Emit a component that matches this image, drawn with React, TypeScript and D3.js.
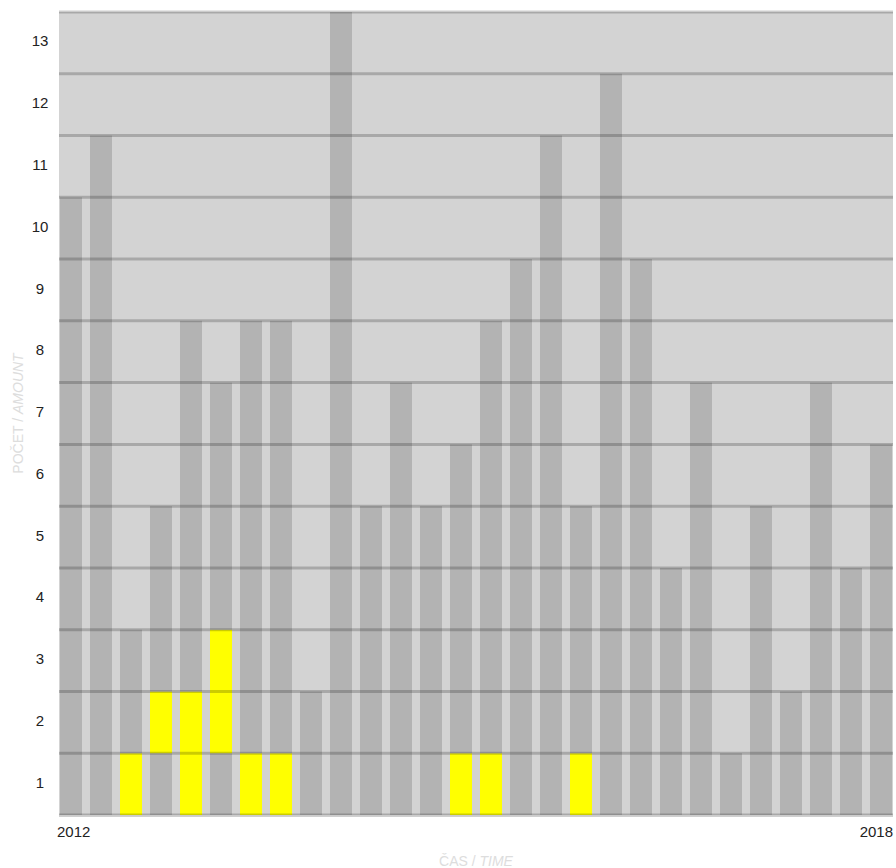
import React from "react";
import * as d3 from "d3";

const years = [2012, 2013, 2014, 2015, 2016, 2017, 2018];
const quarters = years.flatMap((y) => [1, 2, 3, 4].map((q) => `${y} Q${q}`));
const totals = [10, 11, 3, 5, 8, 7, 8, 8, 2, 13, 5, 7, 5, 6, 8, 9, 11, 5, 12, 9, 4, 7, 1, 5, 2, 7, 4, 6];
const highlightStart = [0, 0, 0, 1, 0, 1, 0, 0, 0, 0, 0, 0, 0, 0, 0, 0, 0, 0, 0, 0, 0, 0, 0, 0, 0, 0, 0, 0];
const highlightCount = [0, 0, 1, 1, 2, 2, 1, 1, 0, 0, 0, 0, 0, 1, 1, 0, 0, 1, 0, 0, 0, 0, 0, 0, 0, 0, 0, 0];
const yTicks = d3.range(1, 14);
const xLabels = ["2012", "2018"];

const W = 896;
const H = 868;
const left = 59;
const right = 893;
const top = 12;
const bottom = 815;
const FONT = "'Liberation Sans', Arial, Helvetica, sans-serif";

export default function App() {
  const x = d3.scaleBand<string>().domain(quarters).range([60, 892]).paddingInner(8 / 30).paddingOuter(0);
  const y = d3.scaleLinear().domain([0, 13]).range([bottom, top]);

  const segs: { key: string; x: number; y0: number; y1: number; fill: string }[] = [];
  quarters.forEach((q, i) => {
    const t = totals[i];
    const hs = highlightStart[i];
    const hc = highlightCount[i];
    if (hc === 0) {
      segs.push({ key: q + "g", x: x(q)!, y0: 0, y1: t, fill: "#b3b3b3" });
    } else {
      if (hs > 0) segs.push({ key: q + "a", x: x(q)!, y0: 0, y1: hs, fill: "#b3b3b3" });
      segs.push({ key: q + "y", x: x(q)!, y0: hs, y1: hs + hc, fill: "#ffff00" });
      if (hs + hc < t) segs.push({ key: q + "b", x: x(q)!, y0: hs + hc, y1: t, fill: "#b3b3b3" });
    }
  });

  return (
    <svg width={W} height={H} style={{ position: "absolute", left: 0, top: 0, fontFamily: FONT }}>
      <rect x={left} y={top} width={right - left} height={bottom - top} fill="#d3d3d3" />
      <line x1={left} x2={right} y1={bottom + 1.5} y2={bottom + 1.5} stroke="#e6e6e6" strokeWidth={1} />
      {segs.map((s) => (
        <rect key={s.key} x={s.x} y={y(s.y1)} width={x.bandwidth()} height={y(s.y0) - y(s.y1)} fill={s.fill} />
      ))}
      {d3.range(0, 14).map((v) => (
        <line key={"g" + v} x1={left} x2={right} y1={y(v)} y2={y(v)} stroke="#000" strokeOpacity={0.2} strokeWidth={3} />
      ))}
      {yTicks.map((v) => (
        <text key={"t" + v} x={40} y={y(v - 0.5)} dy="0.24em" textAnchor="middle" fontSize={15} fill="#222">
          {v}
        </text>
      ))}
      <text x={57} y={837} fontSize={15} fill="#222" textAnchor="start">{xLabels[0]}</text>
      <text x={893} y={837} fontSize={15} fill="#222" textAnchor="end">{xLabels[1]}</text>
      <text x={(left + right) / 2} y={866} fontSize={14} fill="#dddddd" textAnchor="middle">
        ČAS / <tspan fontStyle="italic">TIME</tspan>
      </text>
      <text transform={`translate(23,${(top + bottom) / 2}) rotate(-90)`} fontSize={14} fill="#dddddd" textAnchor="middle">
        POČET / <tspan fontStyle="italic">AMOUNT</tspan>
      </text>
    </svg>
  );
}
